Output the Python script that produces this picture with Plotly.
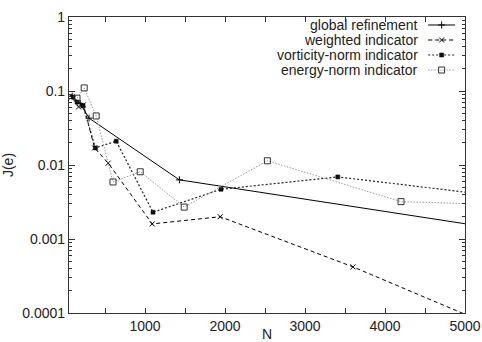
import plotly.graph_objects as go

# ---- data ----
global_N = [90, 190, 300, 1430, 5700]
global_J = [0.085, 0.068, 0.043, 0.0063, 0.00123]

weighted_N = [90, 170, 230, 370, 540, 1090, 1940, 3600, 5300]
weighted_J = [0.083, 0.061, 0.065, 0.017, 0.0106, 0.0016, 0.0020, 0.00042, 0.00007]

vort_N = [100, 150, 225, 380, 640, 1100, 1950, 3410, 6000]
vort_J = [0.083, 0.071, 0.063, 0.017, 0.021, 0.0023, 0.0047, 0.0069, 0.0032]

energy_N = [150, 240, 390, 600, 940, 1490, 2530, 4200, 7000]
energy_J = [0.080, 0.110, 0.046, 0.0059, 0.0081, 0.0027, 0.0114, 0.0032, 0.0026]

series_names = ["global refinement", "weighted indicator",
                "vorticity-norm indicator", "energy-norm indicator"]

y_tickvals = [1e-4, 1e-3, 1e-2, 1e-1, 1]
y_ticktext = ["0.0001", "0.001", "0.01", "0.1", "1"]
y_minor = [m * d for d in [1e-4, 1e-3, 1e-2, 1e-1] for m in range(2, 10)]
x_tickvals = [1000, 2000, 3000, 4000, 5000]
x_minor = [500, 1500, 2500, 3500, 4500]

FONT = "Liberation Sans, Arial, sans-serif"

styles = [
    dict(line=dict(color="black", width=1, dash="solid"),
         marker=dict(symbol="cross-thin", size=5, line=dict(color="black", width=1))),
    dict(line=dict(color="black", width=1, dash="4px,3px"),
         marker=dict(symbol="x-thin", size=5, line=dict(color="black", width=1))),
    dict(line=dict(color="#222222", width=1.2, dash="2px,2px"),
         marker=dict(symbol="square", size=4, color="#111111", line=dict(color="black", width=0.5))),
    dict(line=dict(color="#9a9a9a", width=1, dash="1.5px,1.5px"),
         marker=dict(symbol="square-open", size=6, color="#333333", line=dict(color="#333333", width=1))),
]

fig = go.Figure()
data = [(global_N, global_J), (weighted_N, weighted_J), (vort_N, vort_J), (energy_N, energy_J)]
for (xs, ys), st, nm in zip(data, styles, series_names):
    fig.add_trace(go.Scatter(x=xs, y=ys, mode="lines+markers", name=nm,
                             line=st["line"], marker=st["marker"],
                             showlegend=False, cliponaxis=True))

# custom gnuplot-style legend (text right, sample on right) on helper axes
leg_y = [0.9730, 0.9223, 0.8716, 0.8209]
for yy, st, nm in zip(leg_y, styles, series_names):
    fig.add_trace(go.Scatter(x=[0.907, 0.941, 0.975], y=[yy, yy, yy],
                             mode="lines", line=st["line"], xaxis="x2", yaxis="y2",
                             showlegend=False, hoverinfo="skip"))
    fig.add_trace(go.Scatter(x=[0.941], y=[yy], mode="markers", marker=st["marker"],
                             xaxis="x2", yaxis="y2", showlegend=False, hoverinfo="skip"))
    fig.add_annotation(x=0.884, y=yy, xref="paper", yref="paper", text=nm,
                       showarrow=False, xanchor="right", yanchor="middle", borderpad=0,
                       font=dict(family=FONT, size=14, color="#222222"))

axis_common = dict(showline=True, linecolor="#333333", linewidth=1.2, mirror="ticks",
                   ticks="inside", tickcolor="#333333", showgrid=False, zeroline=False,
                   automargin=False,
                   tickfont=dict(family=FONT, size=14, color="#222222"))

fig.update_layout(
    width=482, height=342,
    margin=dict(l=69, r=17, t=17, b=29, autoexpand=False),
    paper_bgcolor="white", plot_bgcolor="white",
    xaxis=dict(range=[50, 5000], tickvals=x_tickvals, ticklen=5,
               minor=dict(tickvals=x_minor, ticks="inside", ticklen=5, tickcolor="#333333",
                          showgrid=False),
               title=dict(text="N", font=dict(family=FONT, size=14, color="#222222"), standoff=0),
               **axis_common),
    yaxis=dict(type="log", range=[-4, 0], tickvals=y_tickvals, ticktext=y_ticktext, ticklen=6,
               minor=dict(tickvals=y_minor, ticks="inside", ticklen=3, tickcolor="#333333",
                          showgrid=False),
               title=dict(text="J(e)", font=dict(family=FONT, size=14, color="#222222"), standoff=6),
               **axis_common),
    xaxis2=dict(range=[0, 1], overlaying="x", visible=False, fixedrange=True),
    yaxis2=dict(range=[0, 1], overlaying="y", visible=False, fixedrange=True),
    showlegend=False,
)

fig.write_html("out.html")
